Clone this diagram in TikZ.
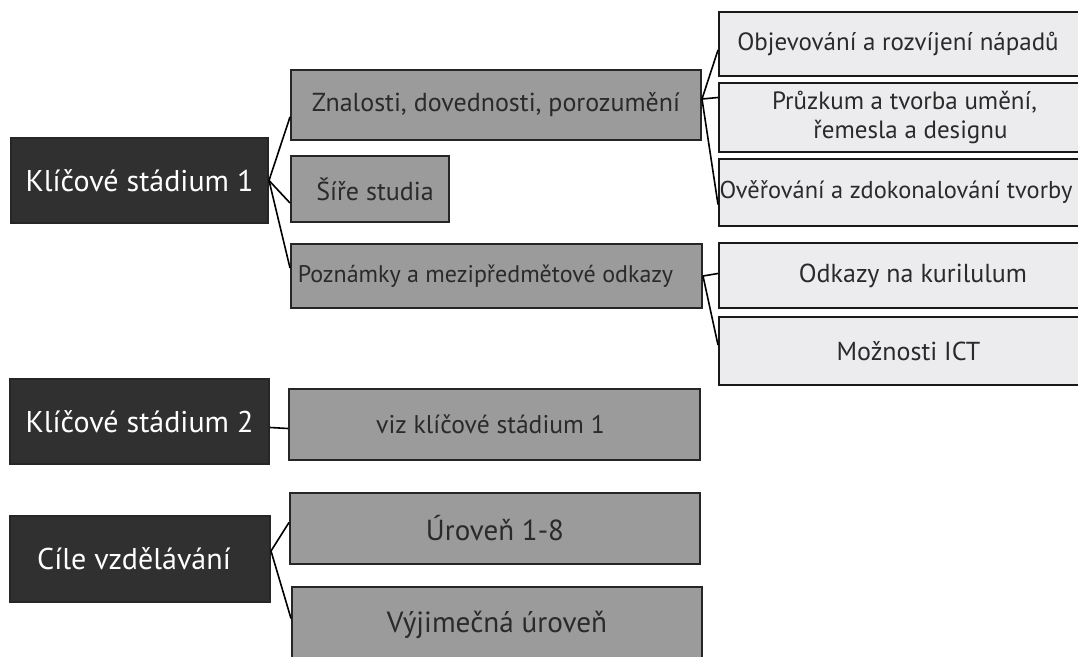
\documentclass[tikz,border=0pt]{standalone}
\usepackage{fontspec}
\setmainfont{PT Sans}
\usepackage{tikz}
\usetikzlibrary{positioning}
\definecolor{stagefill}{HTML}{303030}
\definecolor{topicfill}{HTML}{9B9B9B}
\definecolor{itemfill}{HTML}{ECECEE}
\definecolor{inktext}{HTML}{2A2A2A}

\begin{document}
\begin{tikzpicture}[x=0.5pt, y=-0.5pt,
  stagebox/.style={draw=black!85, line width=1pt, fill=stagefill,
    text=white, align=center, inner sep=0pt,
    font=\fontsize{15}{18}\selectfont},
  topicbox/.style={draw=black!85, line width=1pt, fill=topicfill,
    text=inktext, align=center, inner sep=0pt,
    font=\fontsize{13}{15}\selectfont},
  itembox/.style={draw=black!90, line width=1pt, fill=itemfill,
    text=inktext, align=center, inner sep=0pt,
    font=\fontsize{12.5}{14.5}\selectfont},
  link/.style={draw=black, line width=0.8pt}
]
\useasboundingbox (0,0) rectangle (1078,657);

\node[stagebox, minimum width=128.5pt, minimum height=42.5pt] (ks1) at (139.5,180.5)
    {Klíčové stádium 1};
\node[stagebox, minimum width=129.5pt, minimum height=42.5pt] (ks2) at (139.5,421.5)
    {Klíčové stádium 2};
\node[stagebox, minimum width=130pt, minimum height=43pt] (goals) at (140,559)
    {\hspace*{-6pt}Cíle vzdělávání};

\node[topicbox, minimum width=205pt, minimum height=35pt] (skills) at (496,105)
    {Znalosti, dovednosti, porozumění};
\node[topicbox, minimum width=79pt, minimum height=33pt] (breadth) at (370,189)
    {\hspace*{5pt}Šíře studia};
\node[topicbox, minimum width=205.5pt, minimum height=32pt,
      font=\fontsize{12}{14}\selectfont] (notes) at (496.5,276)
    {\hspace*{-11pt}Poznámky a mezipředmětové odkazy};
\node[topicbox, minimum width=205.5pt, minimum height=35.5pt,
      font=\fontsize{12.8}{15}\selectfont] (seeks1) at (494.5,424.5)
    {\hspace*{-4pt}viz klíčové stádium 1};
\node[topicbox, minimum width=205pt, minimum height=35.5pt,
      font=\fontsize{14.5}{17}\selectfont] (levels) at (495,528.5)
    {Úroveň 1-8};
\node[topicbox, minimum width=205pt, minimum height=37.5pt,
      font=\fontsize{14.6}{17}\selectfont] (except) at (497,624.5)
    {Výjimečná úroveň};

\node[itembox, minimum width=185.5pt, minimum height=32pt] (ideas) at (904.5,44)
    {\hspace*{-6.5pt}Objevování a rozvíjení nápadů};
\node[itembox, minimum width=185.5pt, minimum height=34.5pt] (making) at (904.5,117.5)
    {Průzkum a tvorba umění,\\ \hspace*{6pt}řemesla a designu};
\node[itembox, minimum width=185.5pt, minimum height=33.5pt,
      font=\fontsize{12.2}{14}\selectfont] (review) at (904.5,192.5)
    {\hspace*{-8.5pt}Ověřování a zdokonalování tvorby};
\node[itembox, minimum width=185.5pt, minimum height=32.5pt,
      font=\fontsize{13}{15}\selectfont] (curric) at (904.5,275.5)
    {\hspace*{8.5pt}Odkazy na kurilulum};
\node[itembox, minimum width=185.5pt, minimum height=34pt,
      font=\fontsize{13}{15}\selectfont] (ict) at (904.5,351)
    {\hspace*{4pt}Možnosti ICT};

\draw[link] (ks1.east) -- ([yshift=-6pt]skills.west);
\draw[link] (ks1.east) -- ([yshift=-7pt]breadth.west);
\draw[link] (ks1.east) -- ([yshift=4pt]notes.west);
\draw[link] ([yshift=3pt]skills.east) -- ([yshift=-3pt]ideas.west);
\draw[link] ([yshift=3pt]skills.east) -- ([yshift=10pt]making.west);
\draw[link] ([yshift=3pt]skills.east) -- ([yshift=-6pt]review.west);
\draw[link] (notes.east) -- ([yshift=1pt]curric.west);
\draw[link] (notes.east) -- ([yshift=3pt]ict.west);
\draw[link] ([yshift=-3pt]ks2.east) -- ([yshift=-2pt]seeks1.west);
\draw[link] ([yshift=4pt]goals.east) -- ([yshift=3pt]levels.west);
\draw[link] ([yshift=4pt]goals.east) -- ([yshift=3pt]except.west);
\end{tikzpicture}
\end{document}
